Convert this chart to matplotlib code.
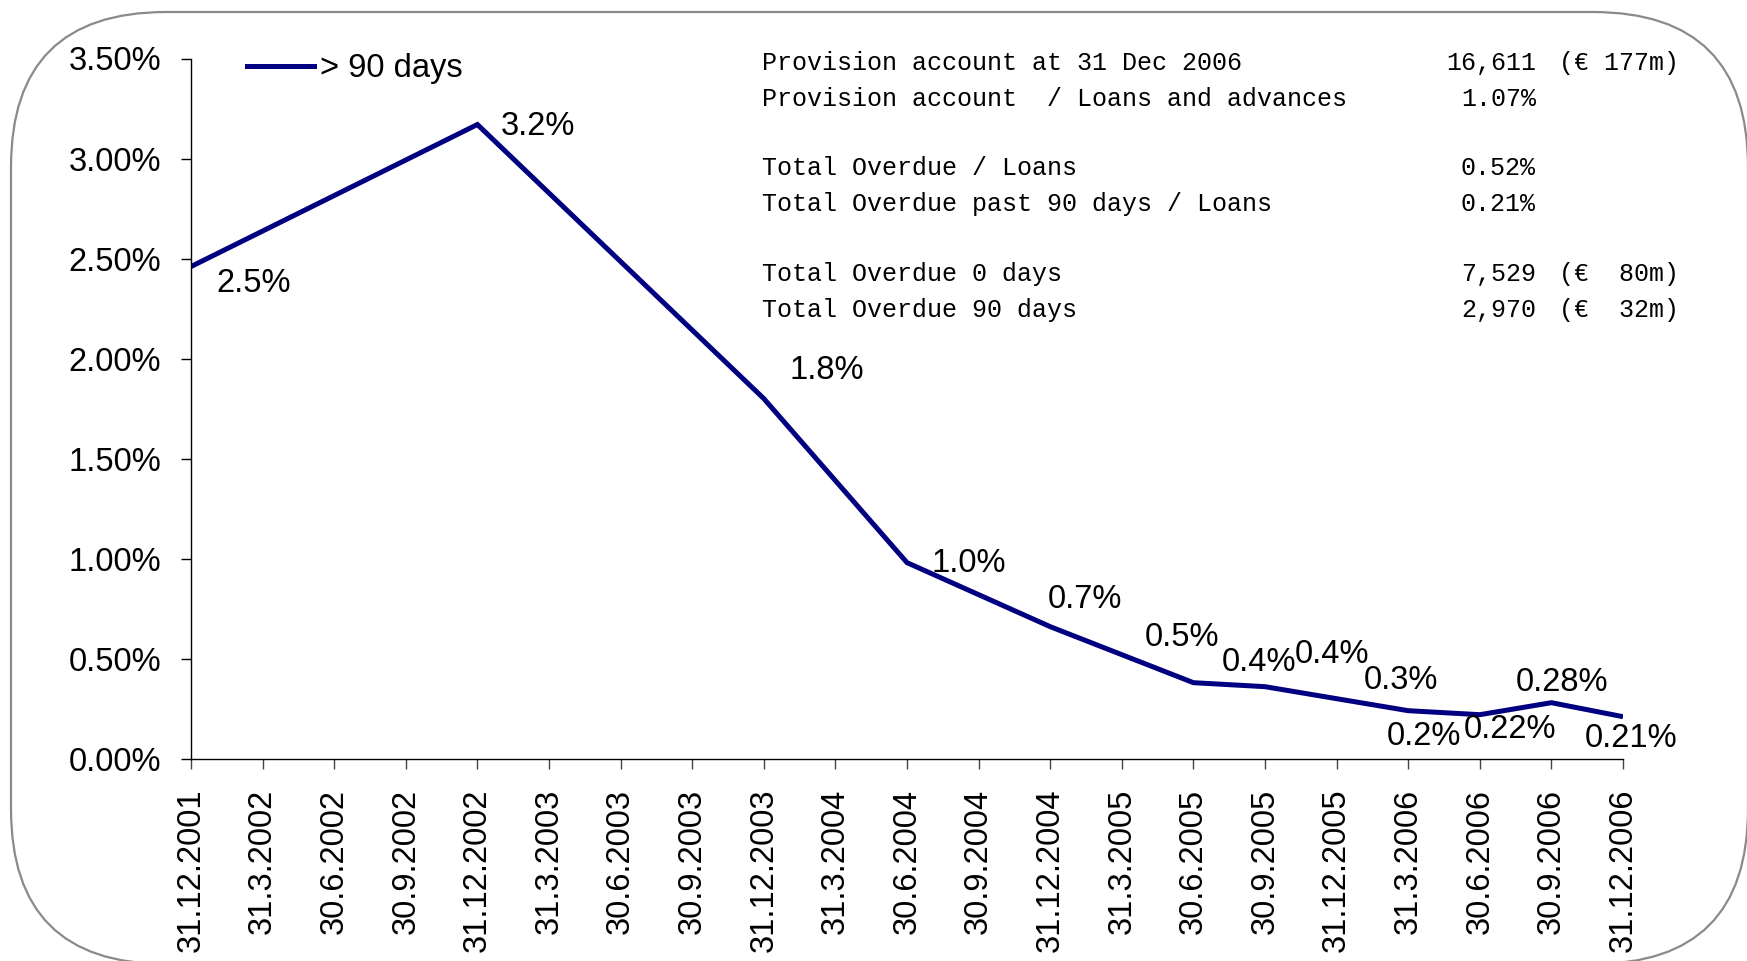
import matplotlib
matplotlib.use("Agg")
import matplotlib.pyplot as plt
from matplotlib.patches import FancyBboxPatch
from matplotlib.lines import Line2D
from matplotlib.ticker import FuncFormatter

# ---------------- data ----------------
dates = ["31.12.2001", "31.3.2002", "30.6.2002", "30.9.2002", "31.12.2002",
         "31.3.2003", "30.6.2003", "30.9.2003", "31.12.2003", "31.3.2004",
         "30.6.2004", "30.9.2004", "31.12.2004", "31.3.2005", "30.6.2005",
         "30.9.2005", "31.12.2005", "31.3.2006", "30.6.2006", "30.9.2006",
         "31.12.2006"]
# > 90 days overdue ratio (%), None = no observation
over90 = [2.46, None, None, None, 3.17,
          None, None, None, 1.80, None,
          0.98, None, 0.66, 0.52, 0.38,
          0.36, 0.30, 0.24, 0.22, 0.28,
          0.21]
point_labels = ["2.5%", None, None, None, "3.2%",
                None, None, None, "1.8%", None,
                "1.0%", None, "0.7%", "0.5%", "0.4%",
                "0.4%", "0.3%", "0.2%", "0.22%", "0.28%",
                "0.21%"]
series_name = "> 90 days"
yticks = [0.0, 0.5, 1.0, 1.5, 2.0, 2.5, 3.0, 3.5]

info_left = ["Provision account at 31 Dec 2006",
             "Provision account  / Loans and advances",
             "Total Overdue / Loans",
             "Total Overdue past 90 days / Loans",
             "Total Overdue 0 days",
             "Total Overdue 90 days"]
info_value = ["16,611", "1.07%", "0.52%", "0.21%", "7,529", "2,970"]
info_eur = ["(€ 177m)", "", "", "", "(€  80m)", "(€  32m)"]

# ---------------- layout / style ----------------
W, H = 1747, 961
DPI = 100
NAVY = "#000080"
FONT = "Liberation Sans"
FS = 23.5

plt.rcParams["font.family"] = [FONT, "DejaVu Sans"]

fig = plt.figure(figsize=(W / DPI, H / DPI), dpi=DPI)
fig.patch.set_facecolor("white")

# background axes in pixel units for the rounded frame
bg = fig.add_axes([0, 0, 1, 1], zorder=-1)
bg.set_xlim(0, W)
bg.set_ylim(0, H)
bg.axis("off")
frame = FancyBboxPatch((11, -3), 1737, 952,
                       boxstyle="round,pad=0,rounding_size=155",
                       ec="#8a8a8a", fc="none", lw=1.6, clip_on=False)
bg.add_patch(frame)

ax_left, ax_right = 191.0, 1623.0
ax_top, ax_bot = 58.5, 758.7
ax = fig.add_axes([ax_left / W, 1 - ax_bot / H,
                   (ax_right - ax_left) / W, (ax_bot - ax_top) / H])
ax.set_facecolor("none")

xs = [i for i, v in enumerate(over90) if v is not None]
ys = [over90[i] for i in xs]
ax.plot(xs, ys, color=NAVY, lw=3.6, solid_joinstyle="miter",
        solid_capstyle="butt", label=series_name)

# data label offsets (pixels, visual placement only)
offsets = {0: (63, -17), 4: (61, -2), 8: (63, 28), 10: (62, -1),
           12: (35, 27), 13: (60, 17), 14: (66, 20), 15: (67, 32),
           16: (64, 18), 17: (16, -26), 18: (30, -15), 19: (11, 20),
           20: (8, -22)}
for i in xs:
    lbl = point_labels[i]
    if lbl is None:
        continue
    dx, dy = offsets[i]
    ax.annotate(lbl, (i, over90[i]), xytext=(dx, dy),
                textcoords="offset pixels", ha="center", va="center",
                fontsize=FS, color="black", annotation_clip=False)

ax.set_xlim(0, len(dates) - 1)
ax.set_ylim(0, 3.5)
ax.set_xticks(range(len(dates)))
ax.set_xticklabels(dates, rotation=90, fontsize=FS, ha="center", va="top")
ax.set_yticks(yticks)
ax.yaxis.set_major_formatter(FuncFormatter(lambda v, p: f"{v:.2f}%"))
ax.tick_params(axis="y", direction="out", length=7.2, width=1.0,
               pad=14.4, labelsize=FS)
ax.tick_params(axis="x", direction="out", length=7.2, width=1.0,
               pad=14.4, labelsize=FS, color="#444444")
for s in ("top", "right"):
    ax.spines[s].set_visible(False)
for s in ("left", "bottom"):
    ax.spines[s].set_linewidth(1.0)
    ax.spines[s].set_color("black")

leg = ax.legend(handles=[Line2D([], [], color=NAVY, lw=3.6)],
                labels=[series_name], loc="center left",
                bbox_to_anchor=(247 / W, 1 - 69 / H),
                bbox_transform=fig.transFigure, frameon=False,
                fontsize=FS, handlelength=2.05, handletextpad=0.2,
                borderpad=0, borderaxespad=0)

# information block, top right
baselines = [70, 105.7, 175, 211, 280.7, 316.7]
IFS = 18
IFONT = ["Liberation Mono", "DejaVu Sans Mono", "DejaVu Sans"]
for yb, l, v, e in zip(baselines, info_left, info_value, info_eur):
    fig.text(762 / W, 1 - yb / H, l, ha="left", va="baseline",
             fontsize=IFS, family=IFONT)
    fig.text(1536 / W, 1 - yb / H, v, ha="right", va="baseline",
             fontsize=IFS, family=IFONT)
    if e:
        fig.text(1619 / W, 1 - yb / H, e, ha="center", va="baseline",
                 fontsize=IFS, family=IFONT)

fig.savefig("out.png", dpi=DPI, facecolor="white")
